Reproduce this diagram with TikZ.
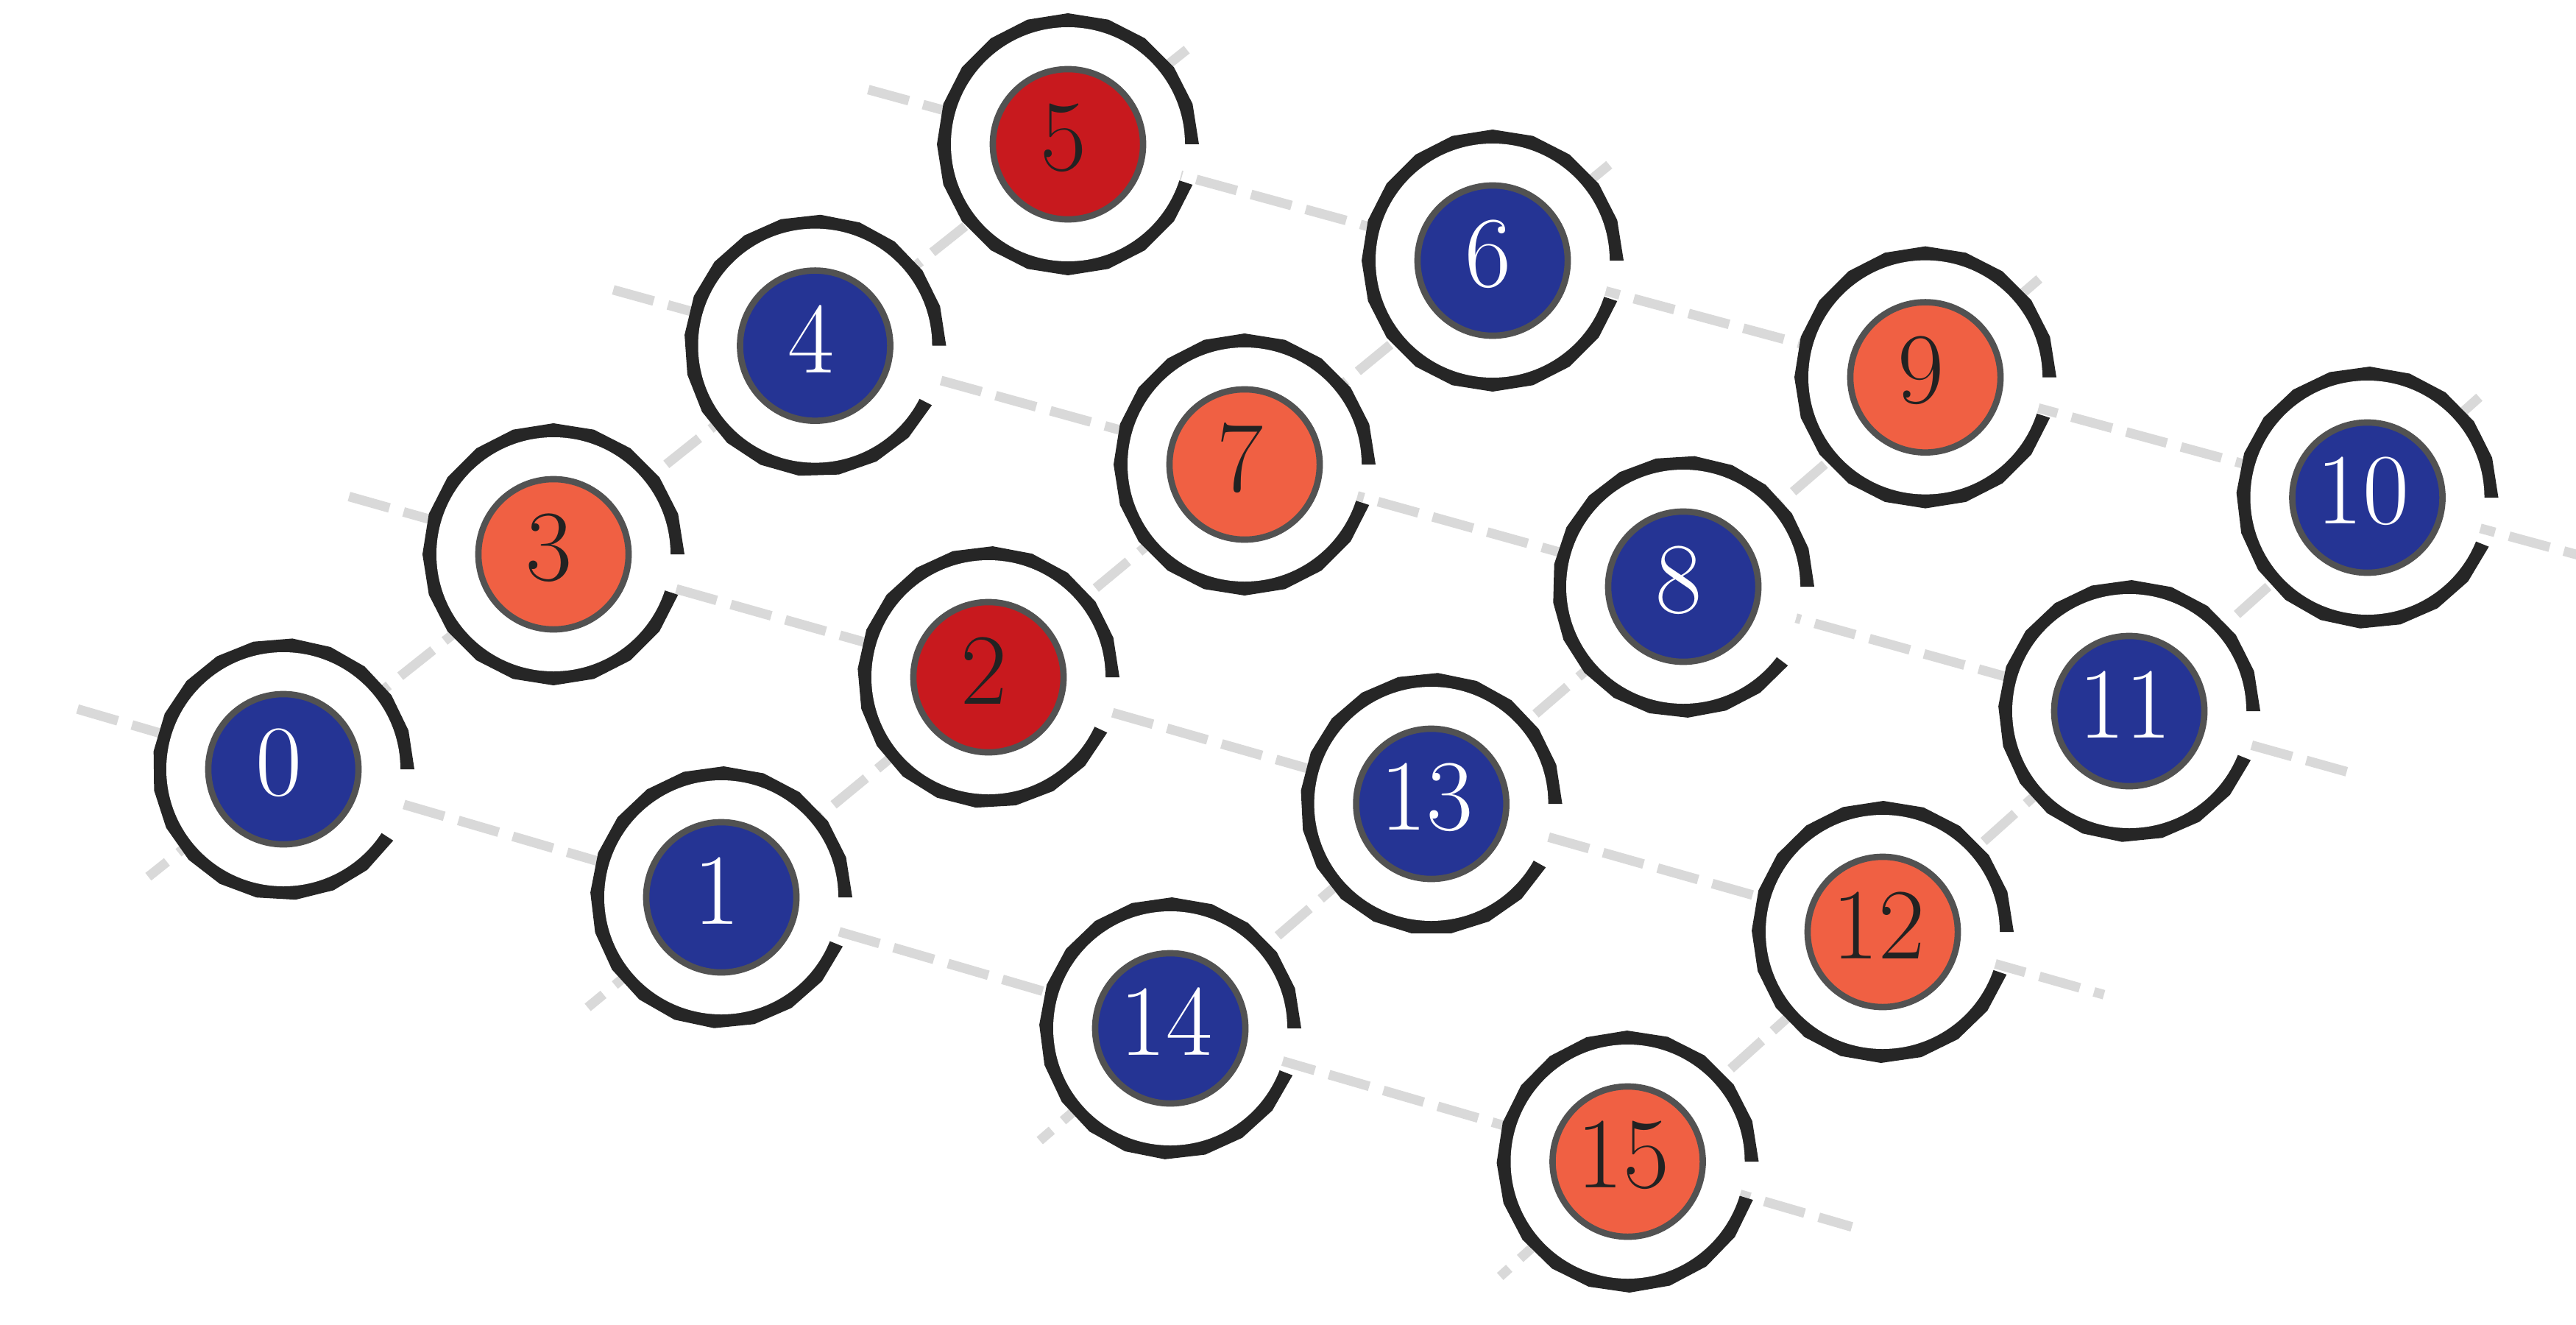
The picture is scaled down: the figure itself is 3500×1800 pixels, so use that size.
\documentclass[tikz,border=0pt]{standalone}
\usetikzlibrary{calc}
\definecolor{nblue}{RGB}{37,52,148}
\definecolor{nred}{RGB}{200,25,30}
\definecolor{norange}{RGB}{240,96,67}
\definecolor{ringc}{RGB}{38,38,38}
\definecolor{bordc}{RGB}{82,82,82}
\definecolor{dashc}{RGB}{217,217,217}
\definecolor{darktext}{RGB}{34,34,34}
\begin{document}
\begin{tikzpicture}[x=0.01cm,y=-0.01cm,
  gridline/.style={draw=dashc, line width=3.7pt, dash pattern=on 16.2pt off 5.7pt},
  disk/.style={circle, draw=bordc, line width=2.45pt, minimum size=2.04cm, inner sep=0pt},
  lbl/.style={inner sep=0pt, font=\fontsize{39}{47}\selectfont}]
\useasboundingbox (0,0) rectangle (3500,1800);
\fill[white] (0,0) rectangle (3500,1800);
% site positions
\foreach \n/\px/\py in {0/385/1045, 1/980/1219, 2/1343/920, 3/752/753,
  4/1107.5/469.6, 5/1451/196, 6/2028/354, 7/1691/631, 8/2287/797,
  9/2616/512.6, 10/3216.5/676, 11/2893/966, 12/2558/1266, 13/1944.6/1092,
  14/1590/1397, 15/2211.5/1578}
  {\coordinate (p\n) at (\px,\py);}
% row lines (left to right)
\foreach \a/\b/\c/\d in {0/1/14/15, 3/2/13/12, 4/7/8/11, 5/6/9/10}
  {\draw[gridline] ($(p\a)!-0.47!(p\b)$) -- (p\a) -- (p\b) -- (p\c) -- (p\d) -- ($(p\d)!-0.49!(p\c)$);}
% column lines (top to bottom)
\foreach \a/\b/\c/\d in {5/4/3/0, 6/7/2/1, 9/8/13/14, 10/11/12/15}
  {\draw[gridline] ($(p\a)!-0.47!(p\b)$) -- (p\a) -- (p\b) -- (p\c) -- (p\d) -- ($(p\d)!-0.5!(p\c)$);}
% sites
\foreach \n/\e/\fc/\tc in {0/327/nblue/white, 1/338/nblue/white, 2/335/nred/darktext,
  3/342/norange/darktext, 4/333/nblue/white, 5/342/nred/darktext, 6/342/nblue/white,
  7/342/norange/darktext, 8/323/nblue/white, 9/342/norange/darktext, 10/338/nblue/white,
  11/338/nblue/white, 12/341/norange/darktext, 13/331/nblue/white, 14/339/nblue/white,
  15/343/norange/darktext}
{
  \begin{scope}[shift={(p\n)}]
    \fill[ringc] (0,0) -- plot[domain=0:\e, samples=20, variable=\t] ({178*cos(\t)},{-178*sin(\t)}) -- cycle;
    \fill[white] (0,0) circle[radius=159];
  \end{scope}
  \node[disk, fill=\fc] (n\n) at (p\n) {};
  \node[lbl, text=\tc] (l\n) at ($(p\n)+(-6,-9)$) {\n};
}
\end{tikzpicture}
\end{document}
